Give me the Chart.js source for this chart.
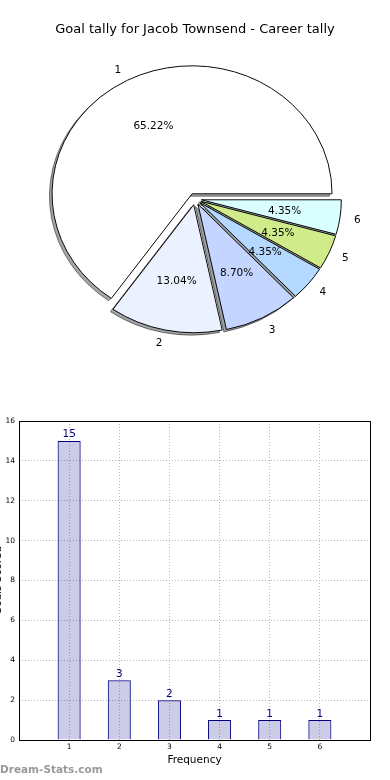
<!DOCTYPE html>
<html>
<head>
<meta charset="utf-8">
<script src="https://cdn.jsdelivr.net/npm/chart.js@4.4.1/dist/chart.umd.min.js"></script>
<style>
  html, body { margin: 0; padding: 0; background: #fff; }
  #wrap { position: relative; width: 390px; height: 780px; overflow: hidden; }
  #pie { position: absolute; left: 0; top: 0; }
  #bar { position: absolute; left: 0; top: 390px; }
</style>
</head>
<body>
<div id="wrap">
  <canvas id="pie" width="390" height="390"></canvas>
  <canvas id="bar" width="390" height="390"></canvas>
</div>
<script>
// ---- data ----
const chartTitle = 'Goal tally for Jacob Townsend - Career tally';
const categories = ['1', '2', '3', '4', '5', '6'];
const tally = [15, 3, 2, 1, 1, 1];
const sliceColors = ['#ffffff', '#ebf1ff', '#c4d6ff', '#b4d8ff', '#d0eb8a', '#daffff'];
const yTicks = [0, 2, 4, 6, 8, 10, 12, 14, 16];
const xTitle = 'Frequency';
const yTitle = 'Goals Scored';
const watermark = 'Dream-Stats.com';

const FONT = "'DejaVu Sans', sans-serif";

// ---- pie (matplotlib-style: counter-clockwise from 3 o'clock, exploded, shadowed, elliptic) ----
const R = 140;          // horizontal radius
const SY = 128 / 140;   // vertical squash
const EXPLODE = 6.4;    // px
const SHX = -2.6, SHY = 2.6;

const total = tally.reduce((a, b) => a + b, 0);
const pieLabels = categories.slice().reverse();
const pieValues = tally.slice().reverse();
const pieColors = sliceColors.slice().reverse();

const piePlugin = {
  id: 'piePlugin',
  beforeDatasetsDraw(chart) {
    const ctx = chart.ctx;
    const els = chart.getDatasetMeta(0).data;
    const cx = els[0].x, cy = els[0].y;
    const pass = (shadow) => {
      els.forEach((el) => {
        const mid = (el.startAngle + el.endAngle) / 2;
        ctx.save();
        ctx.translate(cx, cy); ctx.scale(1, SY); ctx.translate(-cx, -cy);
        ctx.translate(Math.cos(mid) * EXPLODE + (shadow ? SHX : 0),
                      Math.sin(mid) * EXPLODE + (shadow ? SHY : 0));
        if (shadow) ctx.filter = 'brightness(0.3) opacity(0.5)';
        el.draw(ctx);
        ctx.restore();
      });
    };
    pass(true);
    pass(false);
    return false;
  },
  afterDraw(chart) {
    const ctx = chart.ctx;
    const els = chart.getDatasetMeta(0).data;
    const cx = els[0].x, cy = els[0].y;
    ctx.save();
    ctx.fillStyle = '#000';
    ctx.font = '13px ' + FONT;
    ctx.textAlign = 'center';
    ctx.textBaseline = 'middle';
    ctx.fillText(chartTitle, 195, 30);
    ctx.font = '10.5px ' + FONT;
    els.forEach((el, i) => {
      const mid = (el.startAngle + el.endAngle) / 2;
      const c = Math.cos(mid), s = Math.sin(mid);
      const ex = cx + c * EXPLODE, ey = cy + s * EXPLODE * SY;
      // category label
      ctx.textAlign = c > 0 ? 'left' : 'right';
      ctx.fillText(pieLabels[i], ex + c * 1.1 * R, ey + s * 1.1 * R * SY + 1);
      // percentage
      ctx.textAlign = 'center';
      const pct = (pieValues[i] / total * 100).toFixed(2) + '%';
      ctx.fillText(pct, ex + c * 0.6 * R, ey + s * 0.6 * R * SY + 1);
    });
    ctx.restore();
  }
};

new Chart(document.getElementById('pie'), {
  type: 'pie',
  data: {
    labels: pieLabels,
    datasets: [{
      data: pieValues,
      backgroundColor: pieColors,
      borderColor: '#000',
      borderWidth: 1
    }]
  },
  options: {
    responsive: false,
    animation: false,
    events: [],
    rotation: 90,
    radius: R,
    layout: { padding: { top: 8 } },
    plugins: { legend: { display: false }, tooltip: { enabled: false }, title: { display: false } }
  },
  plugins: [piePlugin]
});

// ---- bar ----
const barPlugin = {
  id: 'barPlugin',
  afterDatasetsDraw(chart) {
    const ctx = chart.ctx;
    const els = chart.getDatasetMeta(0).data;
    ctx.save();
    ctx.fillStyle = '#000080';
    ctx.font = '10.5px ' + FONT;
    ctx.textAlign = 'center';
    ctx.textBaseline = 'bottom';
    els.forEach((el, i) => ctx.fillText(String(tally[i]), el.x, el.y - 1));
    ctx.restore();
  },
  afterDraw(chart) {
    const ctx = chart.ctx;
    const a = chart.chartArea;
    ctx.save();
    ctx.strokeStyle = '#000';
    ctx.lineWidth = 1;
    ctx.strokeRect(Math.round(a.left) + 0.5, Math.round(a.top) + 0.5,
                   Math.round(a.right - a.left), Math.round(a.bottom - a.top));
    // y title (clipped at left edge as in reference)
    ctx.fillStyle = '#000';
    ctx.font = '10.5px ' + FONT;
    ctx.textAlign = 'center';
    ctx.textBaseline = 'alphabetic';
    ctx.translate(1, (a.top + a.bottom) / 2);
    ctx.rotate(-Math.PI / 2);
    ctx.fillText(yTitle, 0, 0);
    ctx.restore();
    ctx.save();
    ctx.fillStyle = '#999';
    ctx.font = 'bold 10.5px ' + FONT;
    ctx.textAlign = 'left';
    ctx.textBaseline = 'middle';
    ctx.fillText(watermark, 0, 380);
    ctx.restore();
  }
};

new Chart(document.getElementById('bar'), {
  type: 'bar',
  data: {
    datasets: [{
      data: categories.map((c, i) => ({ x: Number(c), y: tally[i] })),
      backgroundColor: 'rgba(0,0,128,0.2)',
      borderColor: '#000080',
      borderWidth: 1,
      barPercentage: 0.46,
      categoryPercentage: 1
    }]
  },
  options: {
    responsive: false,
    animation: false,
    events: [],
    layout: { padding: { top: 31, right: 20, left: 0, bottom: 0 } },
    plugins: { legend: { display: false }, tooltip: { enabled: false } },
    scales: {
      x: {
        type: 'linear',
        min: 0, max: categories.length + 1,
        offset: false,
        afterFit: (s) => { s.height = 40; },
        grid: {
          offset: false,
          drawTicks: false,
          color: (c) => (c.tick && c.tick.value >= 1 && c.tick.value <= categories.length) ? '#b8b8b8' : 'rgba(0,0,0,0)'
        },
        border: { display: false, dash: [1, 2] },
        ticks: {
          stepSize: 1,
          padding: 3,
          color: '#000',
          font: { family: FONT, size: 7.5 },
          callback: (v) => (v >= 1 && v <= categories.length) ? categories[v - 1] : ''
        },
        title: {
          display: true, text: xTitle, color: '#000',
          font: { family: FONT, size: 10.5 },
          padding: { top: 0, bottom: 13 }
        }
      },
      y: {
        min: yTicks[0], max: yTicks[yTicks.length - 1],
        afterFit: (s) => { s.width = 19; },
        afterBuildTicks: (s) => { s.ticks = yTicks.map((v) => ({ value: v })); },
        grid: {
          drawTicks: false,
          color: (c) => (c.tick && c.tick.value > yTicks[0] && c.tick.value < yTicks[yTicks.length - 1]) ? '#b8b8b8' : 'rgba(0,0,0,0)'
        },
        border: { display: false, dash: [1, 2] },
        ticks: {
          padding: 4,
          color: '#000',
          font: { family: FONT, size: 7.5 }
        }
      }
    }
  },
  plugins: [barPlugin]
});
</script>
</body>
</html>
